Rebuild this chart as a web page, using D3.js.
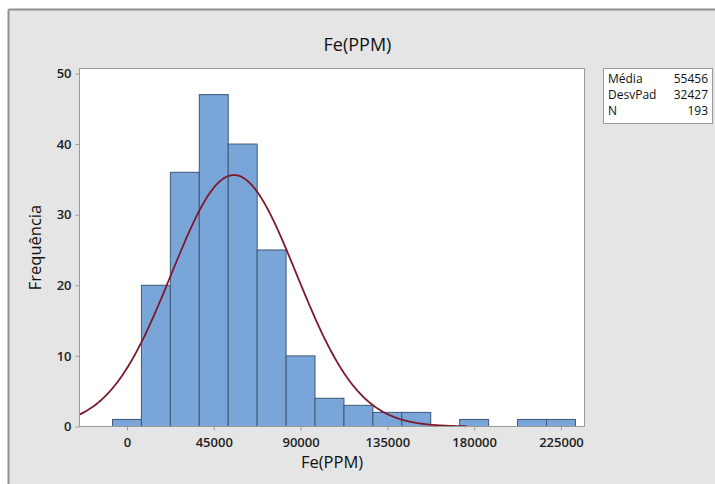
<!DOCTYPE html>
<html><head><meta charset="utf-8">
<script src="https://cdn.jsdelivr.net/npm/d3@7"></script>
<style>body{margin:0;background:#fff}svg{display:block}text{font-family:"Open Sans","Noto Sans",sans-serif}</style>
</head><body><svg id="c" width="715" height="484"></svg>
<script>
const binCenters = [0,15000,30000,45000,60000,75000,90000,105000,120000,135000,150000,165000,180000,195000,210000,225000];
const counts     = [1,20,36,47,40,25,10,4,3,2,2,0,1,0,1,1];
const binWidth = 15000;
const xTicks = [0,45000,90000,135000,180000,225000];
const yTicks = [0,10,20,30,40,50];
const statLabels = ["Média","DesvPad","N"];
const statValues = [55456,32427,193];
const title = "Fe(PPM)", xLabel = "Fe(PPM)", yLabel = "Frequência";

const svg = d3.select("#c");
svg.append("rect").attr("x",9).attr("y",9.5).attr("width",706).attr("height",475).attr("fill","#e5e5e5");
svg.append("line").attr("x1",8.5).attr("x2",715).attr("y1",9.5).attr("y2",9.5).attr("stroke","#8f8f8f").attr("stroke-width",2);
svg.append("line").attr("x1",8.5).attr("x2",8.5).attr("y1",9.5).attr("y2",484).attr("stroke","#8f8f8f").attr("stroke-width",2);

const L=79.5, R=584.5, T=68.5, B=426.5;
const x = d3.scaleLinear().domain([-24600,237200]).range([L,R]);
const y = d3.scaleLinear().domain([0,50.7]).range([B,T]);

svg.append("rect").attr("x",L).attr("y",T).attr("width",R-L).attr("height",B-T).attr("fill","#fff");

const g = svg.append("g");
g.selectAll("rect.bar").data(binCenters.map((c,i)=>({c,n:counts[i]})).filter(d=>d.n>0))
 .join("rect").attr("class","bar")
 .attr("x",d=>x(d.c-binWidth/2)).attr("width",d=>x(d.c+binWidth/2)-x(d.c-binWidth/2))
 .attr("y",d=>y(d.n)).attr("height",d=>B-y(d.n))
 .attr("fill","#7aa5d8").attr("stroke","#3d5878").attr("stroke-width",1);

// fitted normal from displayed stats
const mean=statValues[0], sd=statValues[1], N=statValues[2];
const xs = d3.range(-24600, 176000, 500);
const line = d3.line().x(v=>x(v)).y(v=>y(N*binWidth/(sd*Math.sqrt(2*Math.PI))*Math.exp(-0.5*((v-mean)/sd)**2)));
g.append("path").datum(xs).attr("d",line).attr("fill","none").attr("stroke","#7d1a2c").attr("stroke-width",1.8);

svg.append("rect").attr("x",L).attr("y",T).attr("width",R-L).attr("height",B-T).attr("fill","none").attr("stroke","#9a9a9a").attr("stroke-width",1);

const xa = svg.append("g").attr("transform",`translate(0,${B})`).call(d3.axisBottom(x).tickValues(xTicks).tickSize(4).tickSizeOuter(0).tickFormat(d3.format("d")));
const ya = svg.append("g").attr("transform",`translate(${L},0)`).call(d3.axisLeft(y).tickValues(yTicks).tickSize(4).tickSizeOuter(0));
[xa,ya].forEach(a=>{a.select(".domain").remove();a.selectAll("line").attr("stroke","#9a9a9a");a.selectAll("text").attr("fill","#222").style("font-size","13px").style("font-weight","600");});
xa.selectAll("text").attr("dy","1.05em");
ya.selectAll("text").attr("dx","-1px");

svg.append("text").attr("x",357.5).attr("y",51).attr("text-anchor","middle").style("font-size","18px").style("font-weight","500").attr("fill","#111").text(title);
svg.append("text").attr("x",(L+R)/2).attr("y",468).attr("text-anchor","middle").style("font-size","16.5px").style("font-weight","500").attr("fill","#111").text(xLabel);
svg.append("text").attr("transform",`translate(41,${(T+B)/2}) rotate(-90)`).attr("text-anchor","middle").style("font-size","16.5px").style("font-weight","500").attr("fill","#111").text(yLabel);

// stats box
svg.append("rect").attr("x",603.5).attr("y",68.5).attr("width",109).attr("height",55).attr("fill","#fff").attr("stroke","#9a9a9a");
statLabels.forEach((s,i)=>{
  svg.append("text").attr("x",608).attr("y",82.5+i*16).style("font-size","12px").style("font-weight","500").attr("fill","#111").text(s);
  svg.append("text").attr("x",708).attr("y",82.5+i*16).attr("text-anchor","end").style("font-size","12px").style("font-weight","500").attr("fill","#111").text(statValues[i]);
});
</script></body></html>
